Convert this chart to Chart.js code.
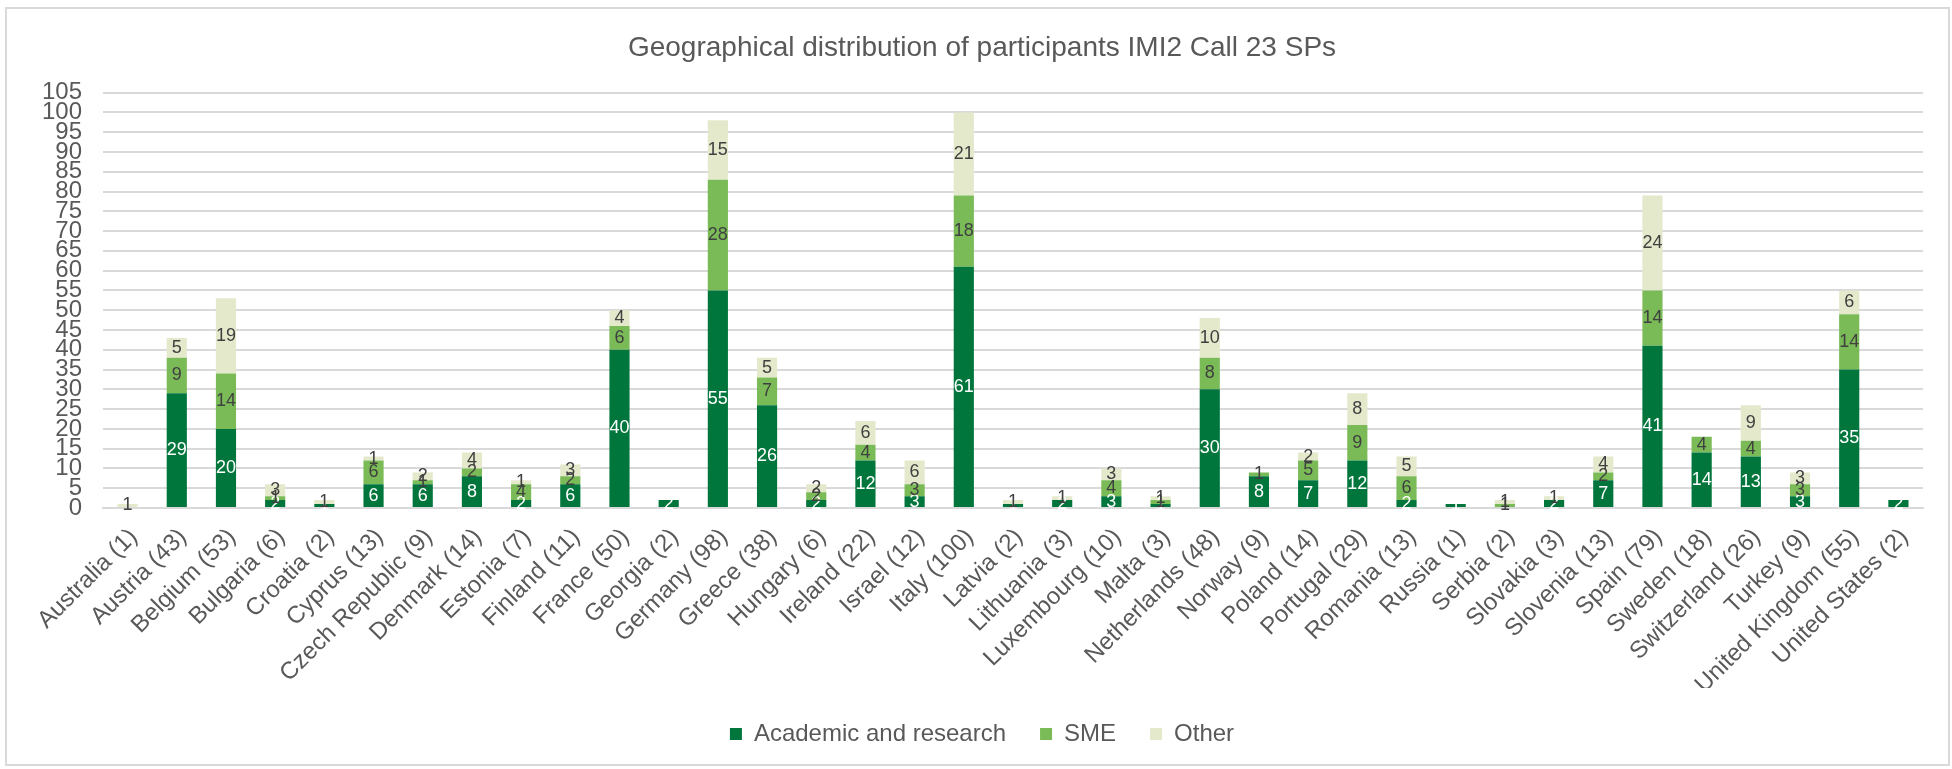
<!DOCTYPE html>
<html>
<head>
<meta charset="utf-8">
<script src="https://cdn.jsdelivr.net/npm/chart.js@4.4.0/dist/chart.umd.min.js"></script>
<style>
  body { margin: 0; background: #fff; }
  #wrap { width: 1952px; height: 769px; position: relative; }
</style>
</head>
<body>
<div id="wrap"><canvas id="graph"></canvas></div>
<script>
var countries = ["Australia (1)", "Austria (43)", "Belgium (53)", "Bulgaria (6)", "Croatia (2)",
  "Cyprus (13)", "Czech Republic (9)", "Denmark (14)", "Estonia (7)", "Finland (11)",
  "France (50)", "Georgia (2)", "Germany (98)", "Greece (38)", "Hungary (6)", "Ireland (22)",
  "Israel (12)", "Italy (100)", "Latvia (2)", "Lithuania (3)", "Luxembourg (10)", "Malta (3)",
  "Netherlands (48)", "Norway (9)", "Poland (14)", "Portugal (29)", "Romania (13)", "Russia (1)",
  "Serbia (2)", "Slovakia (3)", "Slovenia (13)", "Spain (79)", "Sweden (18)", "Switzerland (26)",
  "Turkey (9)", "United Kingdom (55)", "United States (2)"];
var academic = [0, 29, 20, 2, 1, 6, 6, 8, 2, 6, 40, 2, 55, 26, 2, 12, 3, 61, 1, 2, 3, 1, 30, 8, 7, 12, 2, 1, 0, 2, 7, 41, 14, 13, 3, 35, 2];
var sme      = [0, 9, 14, 1, 0, 6, 1, 2, 4, 2, 6, 0, 28, 7, 2, 4, 3, 18, 0, 0, 4, 1, 8, 1, 5, 9, 6, 0, 1, 0, 2, 14, 4, 4, 3, 14, 0];
var other    = [1, 5, 19, 3, 1, 1, 2, 4, 1, 3, 4, 0, 15, 5, 2, 6, 6, 21, 1, 1, 3, 1, 10, 0, 2, 8, 5, 0, 1, 1, 4, 24, 0, 9, 3, 6, 0];
var seriesNames = ["Academic and research", "SME", "Other"];
var yMax = 105;
var yStep = 5;

var textGrey = "#595959";
var fontFam = "'Liberation Sans', Arial, sans-serif";

// outer frame of the chart
var framePlugin = {
  id: "frame",
  beforeDraw: function(chart) {
    var ctx = chart.ctx;
    ctx.save();
    ctx.fillStyle = "#fff";
    ctx.fillRect(0, 0, chart.width, chart.height);
    ctx.strokeStyle = "#d9d9d9";
    ctx.lineWidth = 2;
    ctx.strokeRect(6, 8, chart.width - 9, chart.height - 12);
    ctx.restore();
  }
};

// value labels in the middle of each segment
var labelPlugin = {
  id: "segLabels",
  afterDatasetsDraw: function(chart) {
    var ctx = chart.ctx;
    ctx.save();
    ctx.font = "18px " + fontFam;
    ctx.textAlign = "center";
    ctx.textBaseline = "middle";
    chart.data.datasets.forEach(function(ds, i) {
      var meta = chart.getDatasetMeta(i);
      ctx.fillStyle = i == 0 ? "#ffffff" : "#404040";
      meta.data.forEach(function(bar, j) {
        var v = ds.data[j];
        if (!v) return;
        ctx.fillText(String(v), bar.x, (bar.y + bar.base) / 2);
      });
    });
    ctx.restore();
  }
};

new Chart("graph", {
  type: "bar",
  data: {
    labels: countries,
    datasets: [
      { label: seriesNames[0], data: academic, backgroundColor: "#00763C" },
      { label: seriesNames[1], data: sme, backgroundColor: "#7ABB57" },
      { label: seriesNames[2], data: other, backgroundColor: "#E4E9CC" }
    ]
  },
  options: {
    responsive: true,
    maintainAspectRatio: false,
    animation: false,
    layout: { padding: { left: 41, right: 29, top: 0, bottom: 13 } },
    datasets: { bar: { categoryPercentage: 1, barPercentage: 0.41 } },
    plugins: {
      title: {
        display: true,
        text: "Geographical distribution of participants IMI2 Call 23 SPs",
        color: textGrey,
        font: { family: fontFam, size: 28, weight: "normal" },
        padding: { top: 31, bottom: 28 }
      },
      legend: {
        position: "bottom",
        labels: {
          color: textGrey,
          boxWidth: 12,
          boxHeight: 12,
          padding: 34,
          font: { family: fontFam, size: 24 }
        }
      },
      tooltip: { enabled: false }
    },
    scales: {
      x: {
        stacked: true,
        grid: { display: false, drawTicks: false },
        border: { color: "#d9d9d9", width: 2 },
        ticks: {
          color: textGrey,
          autoSkip: false,
          minRotation: 45,
          maxRotation: 45,
          padding: 15,
          labelOffset: 6,
          font: { family: fontFam, size: 24 }
        },
        afterFit: function(scale) { scale.height = 180; }
      },
      y: {
        stacked: true,
        min: 0,
        max: yMax,
        grid: { color: "#d9d9d9", lineWidth: 2, drawTicks: false },
        border: { display: false },
        ticks: {
          stepSize: yStep,
          autoSkip: false,
          color: textGrey,
          padding: 21,
          font: { family: fontFam, size: 24 }
        },
        afterFit: function(scale) { scale.width = 62; }
      }
    }
  },
  plugins: [framePlugin, labelPlugin]
});
</script>
</body>
</html>
